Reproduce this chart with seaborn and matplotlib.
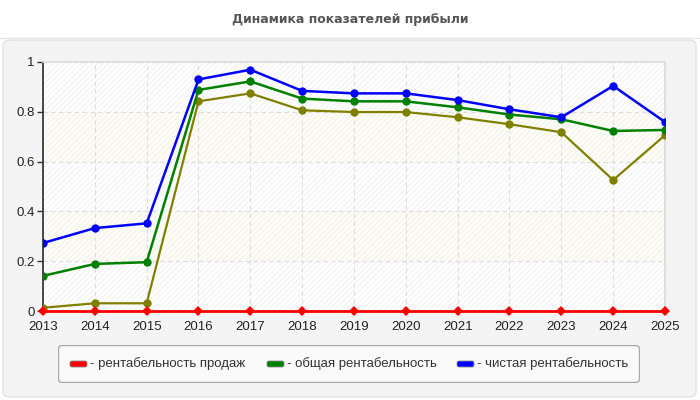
import matplotlib
matplotlib.use("Agg")
import matplotlib.pyplot as plt
from matplotlib.patches import FancyBboxPatch
from matplotlib.ticker import FuncFormatter
import pandas as pd
import seaborn as sns

# данные
years = list(range(2013, 2026))
sales_profit = [0] * 13
total_profit = [0.141, 0.189, 0.196, 0.888, 0.922, 0.853, 0.842, 0.842, 0.818, 0.789, 0.770, 0.723, 0.727]
net_profit = [0.273, 0.333, 0.352, 0.930, 0.969, 0.884, 0.874, 0.874, 0.847, 0.810, 0.778, 0.904, 0.759]
other_series = [0.013, 0.031, 0.031, 0.842, 0.874, 0.806, 0.799, 0.799, 0.778, 0.750, 0.718, 0.526, 0.706]
labels = ["- рентабельность продаж", "- общая рентабельность", "- чистая рентабельность"]

sns.set_theme(style="white")
plt.rcParams["font.family"] = ["Liberation Sans", "DejaVu Sans"]
plt.rcParams["hatch.linewidth"] = 0.6
plt.rcParams["hatch.color"] = "#ededed"

fig = plt.figure(figsize=(7, 4), dpi=100)
fig.patch.set_facecolor("white")

# серый фон с закруглёнными углами
box = FancyBboxPatch((3 / 700, 3 / 400), 693 / 700, 357 / 400,
                     boxstyle="round,pad=0,rounding_size=0.012",
                     transform=fig.transFigure, facecolor="#f4f4f4",
                     edgecolor="#e2e2e2", linewidth=1, zorder=-10)
fig.patches.append(box)
fig.add_artist(plt.Line2D([0, 1], [1 - 38 / 400] * 2, color="#e6e6e6", lw=1, zorder=-9))
fig.text(0.5, 0.95, "Динамика показателей прибыли", ha="center", va="center",
         fontsize=9, fontweight="bold", color="#555555", family="DejaVu Sans")

ax = fig.add_axes([43 / 700, 1 - 311 / 400, 622 / 700, 249 / 400])
ax.set_facecolor("white")

# полосы фона
for i, lo in enumerate([0, 0.2, 0.4, 0.6, 0.8]):
    fc = "#fdfdf5" if i % 2 == 1 else "white"
    ax.axhspan(lo, lo + 0.2, facecolor=fc, edgecolor="#efefef", hatch="//////", lw=0, zorder=0)

df = pd.DataFrame({"year": years, "sales": sales_profit, "total": total_profit,
                   "net": net_profit, "other": other_series})

sns.lineplot(data=df, x="year", y="other", color="#808000", marker="o", markersize=6,
             markeredgewidth=0, lw=1.6, ax=ax, zorder=3)
sns.lineplot(data=df, x="year", y="total", color="#008000", marker="o", markersize=6,
             markeredgewidth=0, lw=1.8, ax=ax, zorder=4)
sns.lineplot(data=df, x="year", y="net", color="#0000ff", marker="o", markersize=6,
             markeredgewidth=0, lw=1.8, ax=ax, zorder=5)
sns.lineplot(data=df, x="year", y="sales", color="#ff0000", marker="D", markersize=5,
             markeredgewidth=0, lw=2, ax=ax, zorder=6, clip_on=False)

ax.set_xlim(2013, 2025)
ax.set_ylim(0, 1)
ax.set_xticks(years)
ax.set_yticks([0, 0.2, 0.4, 0.6, 0.8, 1])
ax.yaxis.set_major_formatter(FuncFormatter(lambda v, p: "%g" % v))
ax.set_xlabel("")
ax.set_ylabel("")
ax.grid(True, color="#dddddd", linestyle=(0, (4, 3)), lw=0.8)
for ln in ax.get_xgridlines() + ax.get_ygridlines():
    ln.set_zorder(1)
ax.tick_params(axis="both", labelsize=9.5, colors="#222222", length=4, pad=1)
ax.tick_params(axis="x", length=0, pad=7)
ax.tick_params(axis="y", left=True, color="#333333", length=4, width=1, pad=2)
for s in ["top", "right"]:
    ax.spines[s].set_color("#dddddd")
ax.spines["bottom"].set_visible(False)
ax.spines["left"].set_color("#333333")

# легенда
lax = fig.add_axes([58 / 700, 1 - 383 / 400, 582 / 700, 38 / 400])
lax.set_xlim(0, 582)
lax.set_ylim(0, 38)
lax.axis("off")
lax.add_patch(FancyBboxPatch((0.5, 0.5), 581, 37, boxstyle="round,pad=0,rounding_size=4",
                             facecolor="#fafafa", edgecolor="#aaaaaa", lw=1))
for x0, col, lab in zip([12, 209, 399], ["#ff0000", "#008000", "#0000ff"], labels):
    lax.add_patch(FancyBboxPatch((x0, 16), 17, 6, boxstyle="round,pad=0,rounding_size=2",
                                 facecolor=col, edgecolor="#888888", lw=0.6))
    lax.text(x0 + 20, 19, lab, va="center", ha="left", fontsize=9.5, color="#333333")

fig.savefig("out.png", dpi=100)
